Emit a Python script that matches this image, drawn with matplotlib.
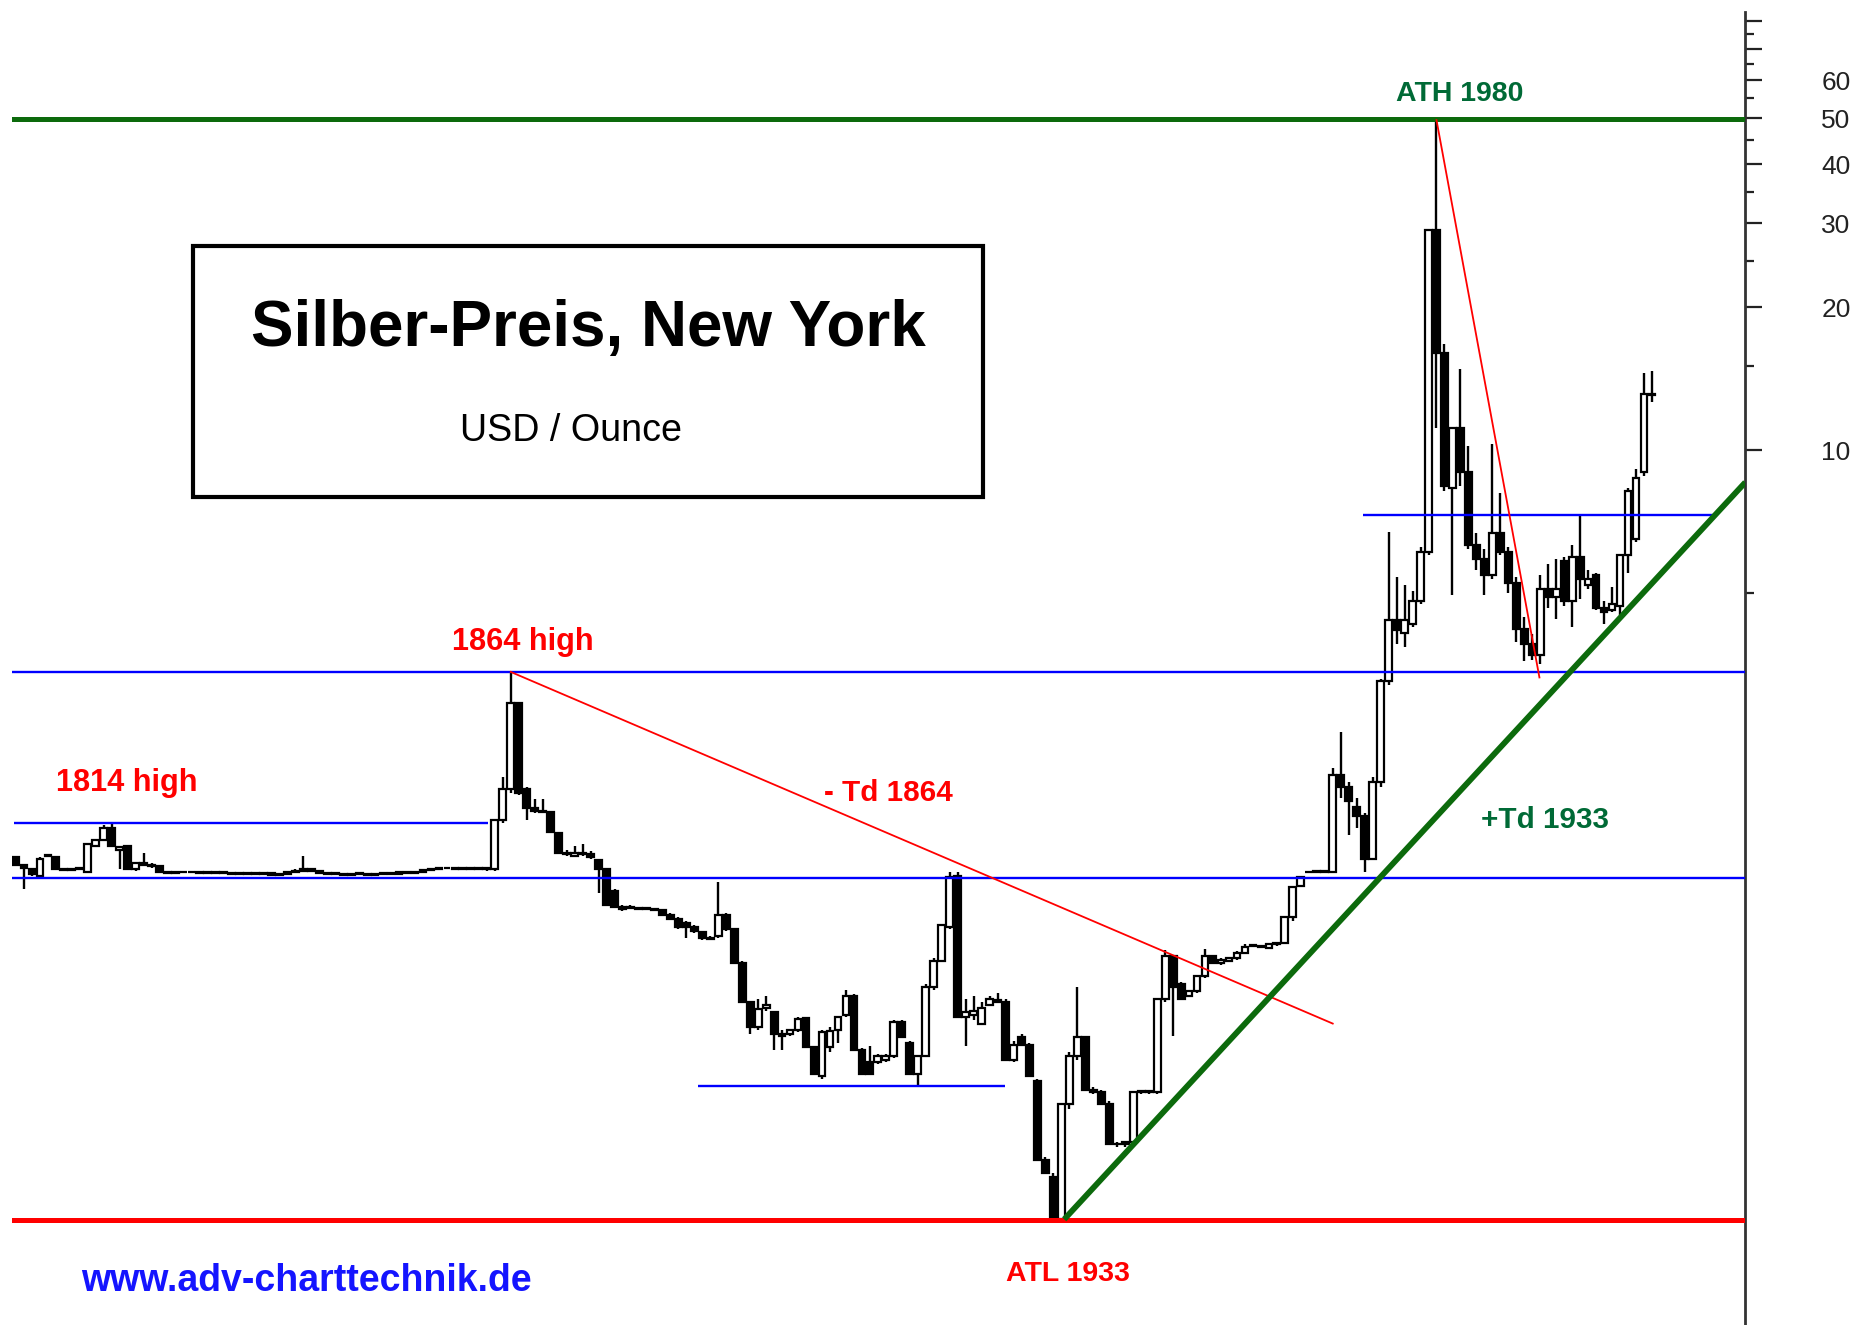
import numpy as np
import matplotlib
matplotlib.use("Agg")
import matplotlib.pyplot as plt
from matplotlib import font_manager
from matplotlib.patches import Rectangle
from matplotlib.ticker import FixedLocator, FuncFormatter, NullFormatter

# yearly candles, silver USD / ounce, 1802 - 2007
years = list(range(1802, 2008))

opens = [
    1.39, 1.335, 1.31, 1.27, 1.40, 1.39, 1.31, 1.305,
    1.31, 1.29, 1.47, 1.51, 1.60, 1.44, 1.47, 1.31, 1.35, 1.34,
    1.33, 1.295, 1.285, 1.29, 1.295, 1.29, 1.285, 1.29, 1.285, 1.285,
    1.28, 1.285, 1.28, 1.28, 1.285, 1.275, 1.28, 1.29, 1.30, 1.31,
    1.30, 1.285, 1.28, 1.28, 1.275, 1.28, 1.28, 1.275, 1.28, 1.28,
    1.28, 1.295, 1.285, 1.29, 1.305, 1.31, 1.315, 1.315, 1.31, 1.31,
    1.315, 1.31, 1.31, 1.66, 1.93, 2.93, 1.93, 1.76, 1.74, 1.73,
    1.56, 1.42, 1.40, 1.42, 1.41, 1.37, 1.31, 1.18, 1.08, 1.09,
    1.08, 1.08, 1.08, 1.075, 1.05, 1.03, 1.01, 0.99, 0.965, 0.94,
    0.95, 1.05, 0.98, 0.83, 0.69, 0.61, 0.67, 0.655, 0.59, 0.59,
    0.60, 0.638, 0.553, 0.48, 0.553, 0.60, 0.645, 0.71, 0.545, 0.515,
    0.515, 0.52, 0.53, 0.625, 0.565, 0.485, 0.53, 0.74, 0.84, 0.99,
    1.27, 0.64, 0.645, 0.62, 0.68, 0.69, 0.69, 0.52, 0.58, 0.56,
    0.47, 0.32, 0.295, 0.24, 0.42, 0.53, 0.58, 0.45, 0.445, 0.42,
    0.345, 0.345, 0.35, 0.445, 0.445, 0.445, 0.70, 0.86, 0.75, 0.71,
    0.725, 0.78, 0.86, 0.83, 0.84, 0.85, 0.875, 0.905, 0.90, 0.895,
    0.91, 0.915, 1.04, 1.21, 1.29, 1.293, 1.293, 1.29, 2.07, 1.95,
    1.77, 1.70, 1.38, 2.00, 3.26, 4.39, 4.12, 4.30, 4.80, 6.10,
    29.0, 16.0, 8.3, 11.1, 9.0, 6.3, 5.9, 5.45, 6.7, 6.1,
    5.25, 4.2, 3.9, 3.7, 5.1, 4.9, 5.85, 4.8, 5.95, 5.2,
    5.45, 4.65, 4.6, 4.7, 6.0, 6.5, 9.0, 13.1,
]

highs = [
    1.40, 1.34, 1.32, 1.39, 1.405, 1.395, 1.31, 1.31,
    1.315, 1.48, 1.51, 1.62, 1.64, 1.47, 1.47, 1.35, 1.42, 1.35,
    1.33, 1.30, 1.295, 1.30, 1.30, 1.30, 1.295, 1.295, 1.29, 1.29,
    1.29, 1.29, 1.285, 1.29, 1.29, 1.285, 1.29, 1.31, 1.40, 1.32,
    1.305, 1.29, 1.285, 1.285, 1.28, 1.285, 1.285, 1.285, 1.285, 1.29,
    1.30, 1.30, 1.29, 1.31, 1.31, 1.32, 1.32, 1.32, 1.315, 1.32,
    1.32, 1.32, 1.66, 2.05, 3.41, 2.95, 1.95, 1.84, 1.84, 1.74,
    1.57, 1.44, 1.47, 1.48, 1.43, 1.38, 1.31, 1.19, 1.10, 1.10,
    1.085, 1.085, 1.08, 1.08, 1.06, 1.04, 1.02, 1.00, 0.97, 0.95,
    1.23, 1.06, 0.98, 0.84, 0.69, 0.70, 0.71, 0.66, 0.60, 0.605,
    0.64, 0.64, 0.555, 0.60, 0.61, 0.64, 0.73, 0.715, 0.55, 0.557,
    0.535, 0.535, 0.63, 0.63, 0.57, 0.53, 0.75, 0.85, 1.00, 1.29,
    1.29, 0.70, 0.71, 0.69, 0.71, 0.72, 0.70, 0.57, 0.59, 0.565,
    0.475, 0.325, 0.30, 0.42, 0.54, 0.74, 0.585, 0.455, 0.45, 0.425,
    0.35, 0.35, 0.445, 0.45, 0.45, 0.70, 0.885, 0.865, 0.76, 0.73,
    0.785, 0.89, 0.865, 0.85, 0.855, 0.88, 0.91, 0.91, 0.905, 0.915,
    0.915, 1.04, 1.21, 1.27, 1.295, 1.295, 1.295, 2.14, 2.55, 2.00,
    1.85, 1.72, 2.05, 3.30, 6.72, 5.40, 5.20, 5.05, 6.25, 29.0,
    49.5, 16.7, 11.2, 14.8, 10.2, 6.7, 6.2, 10.3, 8.1, 6.25,
    5.4, 4.45, 4.1, 5.45, 5.75, 5.9, 5.95, 6.3, 7.3, 5.6,
    5.5, 4.8, 5.15, 6.0, 8.3, 9.1, 14.5, 14.7,
]

lows = [
    1.33, 1.19, 1.27, 1.26, 1.395, 1.31, 1.305, 1.30,
    1.305, 1.29, 1.46, 1.50, 1.46, 1.31, 1.31, 1.30, 1.33, 1.32,
    1.29, 1.28, 1.28, 1.285, 1.29, 1.28, 1.28, 1.28, 1.28, 1.28,
    1.275, 1.28, 1.275, 1.275, 1.275, 1.27, 1.275, 1.285, 1.295, 1.29,
    1.28, 1.28, 1.275, 1.275, 1.27, 1.275, 1.275, 1.27, 1.275, 1.275,
    1.275, 1.28, 1.28, 1.285, 1.30, 1.305, 1.31, 1.31, 1.305, 1.305,
    1.31, 1.30, 1.30, 1.64, 1.90, 1.88, 1.66, 1.72, 1.72, 1.57,
    1.42, 1.40, 1.39, 1.40, 1.38, 1.17, 1.10, 1.09, 1.07, 1.08,
    1.075, 1.075, 1.07, 1.05, 1.03, 0.98, 0.94, 0.96, 0.93, 0.93,
    0.94, 0.97, 0.83, 0.69, 0.59, 0.60, 0.66, 0.545, 0.545, 0.585,
    0.595, 0.55, 0.485, 0.475, 0.54, 0.565, 0.64, 0.545, 0.485, 0.485,
    0.51, 0.515, 0.525, 0.58, 0.485, 0.46, 0.53, 0.73, 0.84, 0.98,
    0.64, 0.555, 0.63, 0.615, 0.675, 0.685, 0.52, 0.515, 0.56, 0.48,
    0.32, 0.30, 0.24, 0.24, 0.41, 0.52, 0.45, 0.44, 0.42, 0.345,
    0.34, 0.34, 0.345, 0.44, 0.44, 0.44, 0.69, 0.585, 0.70, 0.705,
    0.72, 0.775, 0.83, 0.825, 0.835, 0.845, 0.87, 0.90, 0.895, 0.89,
    0.905, 0.91, 1.02, 1.20, 1.29, 1.29, 1.29, 1.29, 1.85, 1.55,
    1.60, 1.29, 1.37, 1.95, 3.20, 3.90, 3.85, 4.25, 4.75, 6.0,
    11.1, 8.2, 4.95, 8.4, 6.2, 5.6, 4.95, 5.35, 6.0, 5.0,
    3.95, 3.6, 3.62, 3.55, 4.65, 4.4, 4.7, 4.25, 4.85, 5.1,
    4.6, 4.3, 4.55, 4.5, 5.5, 6.4, 8.8, 12.6,
]

closes = [
    1.335, 1.32, 1.28, 1.38, 1.40, 1.31, 1.305, 1.31,
    1.31, 1.48, 1.51, 1.60, 1.47, 1.46, 1.31, 1.35, 1.34, 1.33,
    1.295, 1.285, 1.29, 1.295, 1.29, 1.285, 1.29, 1.285, 1.285, 1.28,
    1.285, 1.28, 1.28, 1.285, 1.275, 1.28, 1.29, 1.30, 1.31, 1.30,
    1.285, 1.28, 1.28, 1.275, 1.28, 1.28, 1.275, 1.28, 1.28, 1.28,
    1.295, 1.285, 1.29, 1.305, 1.305, 1.315, 1.315, 1.31, 1.31, 1.315,
    1.31, 1.31, 1.66, 1.93, 2.93, 1.90, 1.76, 1.74, 1.73, 1.57,
    1.42, 1.41, 1.42, 1.41, 1.39, 1.31, 1.10, 1.09, 1.09, 1.085,
    1.08, 1.08, 1.075, 1.05, 1.03, 0.99, 0.99, 0.97, 0.94, 0.935,
    1.05, 0.98, 0.83, 0.69, 0.61, 0.665, 0.68, 0.59, 0.585, 0.60,
    0.635, 0.553, 0.485, 0.595, 0.598, 0.64, 0.71, 0.545, 0.485, 0.485,
    0.53, 0.53, 0.625, 0.58, 0.485, 0.53, 0.74, 0.84, 1.00, 1.26,
    0.64, 0.655, 0.66, 0.67, 0.70, 0.695, 0.52, 0.56, 0.56, 0.48,
    0.32, 0.30, 0.24, 0.42, 0.53, 0.58, 0.45, 0.445, 0.42, 0.345,
    0.345, 0.35, 0.445, 0.445, 0.445, 0.70, 0.86, 0.74, 0.70, 0.725,
    0.78, 0.86, 0.83, 0.845, 0.85, 0.875, 0.90, 0.905, 0.90, 0.91,
    0.915, 1.04, 1.20, 1.26, 1.293, 1.293, 1.293, 2.07, 1.95, 1.82,
    1.70, 1.38, 2.00, 3.26, 4.39, 4.18, 4.39, 4.80, 6.10, 29.0,
    16.0, 8.4, 11.1, 9.0, 6.3, 5.9, 5.45, 6.7, 6.1, 5.25,
    4.2, 3.9, 3.7, 5.1, 4.9, 5.1, 4.8, 5.95, 5.35, 5.35,
    4.65, 4.55, 4.75, 6.0, 8.2, 8.75, 13.1, 13.05,
]

# support / resistance levels and trend lines
ath_1980 = 49.7
atl_1933 = 0.239
high_1864 = 3.41
base_1800s = 1.256
high_1814 = (1.64, 1801.8, 1861.2)
low_1900s = (0.458, 1887.4, 1925.9)
level_1987 = (7.28, 1970.8, 2014.8)
td_1864 = ([1864.0, 1967.0], [3.41, 0.62])
td_1980 = ([1980.0, 1992.9], [49.5, 3.32])
td_1933 = ([1933.35, 2018.7], [0.24, 8.55])

axis_ticks = [10, 20, 30, 40, 50, 60, 70, 80]
axis_minor = [5, 15, 25, 35, 45, 55, 65, 75]
labelled = [10, 20, 30, 40, 50, 60]

W, H = 1854, 1325
names = {f.name for f in font_manager.fontManager.ttflist}
has_narrow = "Liberation Sans Narrow" in names
fam_narrow = ["Liberation Sans Narrow" if has_narrow else "Liberation Sans", "DejaVu Sans"]
fam_wide = ["Liberation Sans", "DejaVu Sans"]
# the narrow face is missing here -> shrink the sizes so the widths match
k = 1.0 if has_narrow else 0.82

red = "#ff0000"
blue = "#0000ff"
green_line = "#0c6a0c"
green_txt = "#006a36"

fig = plt.figure(figsize=(W / 100, H / 100), dpi=100)
ax = fig.add_axes([12 / W, 0, (1745 - 12) / W, (H - 12) / H])
ax.set_yscale("log")
ax.set_xlim(1801.5, 2018.66)
ax.set_ylim(0.1438, 83.6)

o = np.array(opens)
c = np.array(closes)
hi = np.maximum(np.array(highs), np.maximum(o, c))
lo = np.minimum(np.array(lows), np.minimum(o, c))
x = np.array(years)

ax.vlines(x, lo, hi, color="black", lw=1.7, zorder=2)
bottom = np.minimum(o, c)
top = np.maximum(o, c)
height = np.maximum(top - bottom, bottom * 0.004)
up = c >= o
ax.bar(x[up], height[up], bottom=bottom[up], width=0.85, color="white",
       edgecolor="black", linewidth=1.6, zorder=3)
ax.bar(x[~up], height[~up], bottom=bottom[~up], width=0.85, color="black",
       edgecolor="black", linewidth=1.6, zorder=3)

# horizontal levels
ax.axhline(ath_1980, color=green_line, lw=3.6, zorder=4)
ax.axhline(atl_1933, color=red, lw=3.6, zorder=4)
ax.axhline(high_1864, color=blue, lw=1.7, zorder=4)
ax.axhline(base_1800s, color=blue, lw=1.7, zorder=4)
for lvl, x0, x1 in [high_1814, low_1900s, level_1987]:
    ax.hlines(lvl, x0, x1, color=blue, lw=1.7, zorder=4)

# trend lines
ax.plot(td_1864[0], td_1864[1], color=red, lw=1.3, zorder=4)
ax.plot(td_1980[0], td_1980[1], color=red, lw=1.3, zorder=4)
ax.plot(td_1933[0], td_1933[1], color=green_line, lw=4.2, zorder=4,
        solid_capstyle="butt")

# right price axis
for s in ["left", "top", "bottom"]:
    ax.spines[s].set_visible(False)
ax.spines["right"].set_color("#333333")
ax.spines["right"].set_linewidth(2)
ax.set_xticks([])
ax.yaxis.set_major_locator(FixedLocator(axis_ticks))
ax.yaxis.set_minor_locator(FixedLocator(axis_minor))
ax.yaxis.set_major_formatter(FuncFormatter(lambda v, p: f"{v:g}" if v in labelled else ""))
ax.yaxis.set_minor_formatter(NullFormatter())
ax.tick_params(axis="y", which="both", left=False, right=True, labelleft=False,
               labelright=True, direction="out", width=1.6, color="#222222")
ax.tick_params(axis="y", which="major", length=12, pad=43, labelsize=19)
ax.tick_params(axis="y", which="minor", length=6.5)
for t in ax.get_yticklabels():
    t.set_fontfamily(fam_narrow)
    t.set_color("#222222")


def fx(px):
    return px / W


def fy(py):
    return 1 - py / H


# title box
fig.add_artist(Rectangle((fx(193), fy(497)), (983 - 193) / W, (497 - 246) / H,
                         transform=fig.transFigure, facecolor="white",
                         edgecolor="black", lw=3, zorder=5))
fig.text(fx(588), fy(346), "Silber-Preis, New York", ha="center", va="baseline",
         fontsize=56 * k, fontweight="bold", family=fam_narrow, zorder=6)
fig.text(fx(571), fy(441), "USD / Ounce", ha="center", va="baseline",
         fontsize=33 * k, family=fam_narrow, zorder=6)

notes = [
    ("1814 high", 127, 791, red, 27),
    ("1864 high", 523, 650, red, 27),
    ("- Td 1864", 888, 801, red, 26),
    ("ATH 1980", 1460, 101, green_txt, 25),
    ("+Td 1933", 1545, 828, green_txt, 26),
    ("ATL 1933", 1068, 1281, red, 25),
]
for txt, px, py, col, size in notes:
    fig.text(fx(px), fy(py), txt, ha="center", va="baseline", color=col,
             fontsize=size * k, fontweight="bold", family=fam_narrow)

fig.text(fx(306), fy(1291), "www.adv-charttechnik.de", ha="center", va="baseline",
         color="#1414ff", fontsize=27, fontweight="bold", family=fam_wide)

fig.savefig("out.png", dpi=100)
plt.close(fig)
